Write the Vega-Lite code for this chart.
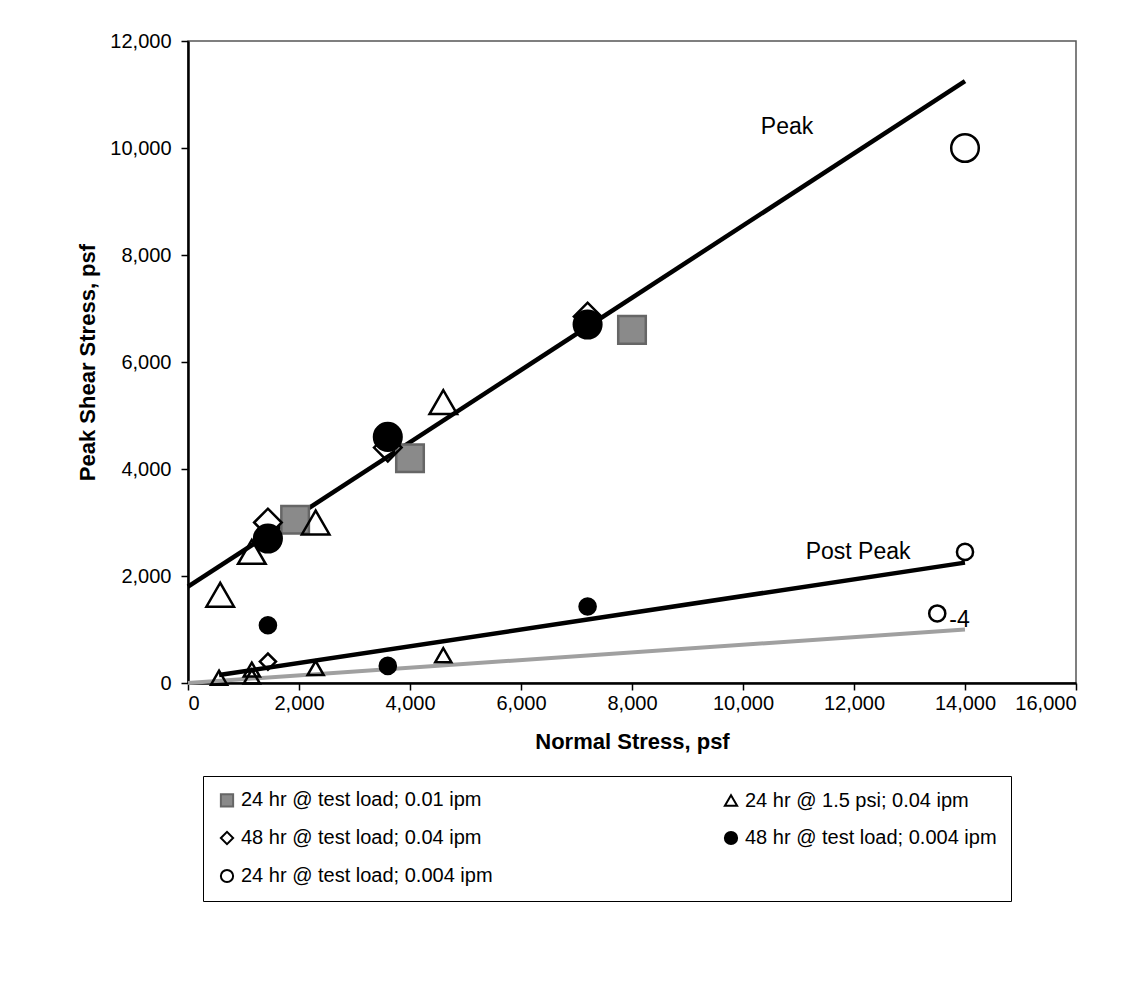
{
  "$schema": "https://vega.github.io/schema/vega-lite/v6.json",
  "width": 888,
  "height": 642,
  "autosize": {"type": "none"},
  "padding": {"left": 188, "top": 41, "right": 63, "bottom": 305},
  "background": "white",
  "config": {
    "font": "Liberation Sans",
    "view": {"stroke": "#555555", "strokeWidth": 1.5},
    "axis": {
      "grid": false,
      "domainColor": "black",
      "domainWidth": 2.5,
      "tickColor": "black",
      "tickWidth": 1.5,
      "tickSize": 7,
      "labelFont": "Liberation Sans",
      "labelFontSize": 20,
      "labelColor": "black",
      "titleFont": "Liberation Sans",
      "titleFontSize": 22,
      "titleFontWeight": "bold",
      "titleColor": "black"
    }
  },
  "datasets": {
    "points": [
      {"series": "24 hr @ test load; 0.01 ipm", "kind": "peak", "stress": 1930, "shear": 3050},
      {"series": "24 hr @ test load; 0.01 ipm", "kind": "peak", "stress": 4000, "shear": 4200},
      {"series": "24 hr @ test load; 0.01 ipm", "kind": "peak", "stress": 8000, "shear": 6600},
      {"series": "24 hr @ 1.5 psi; 0.04 ipm", "kind": "peak", "stress": 580, "shear": 1650},
      {"series": "24 hr @ 1.5 psi; 0.04 ipm", "kind": "peak", "stress": 1150, "shear": 2450},
      {"series": "24 hr @ 1.5 psi; 0.04 ipm", "kind": "peak", "stress": 2300, "shear": 3000},
      {"series": "24 hr @ 1.5 psi; 0.04 ipm", "kind": "peak", "stress": 4600, "shear": 5250},
      {"series": "24 hr @ 1.5 psi; 0.04 ipm", "kind": "post", "stress": 560, "shear": 100},
      {"series": "24 hr @ 1.5 psi; 0.04 ipm", "kind": "post", "stress": 1150, "shear": 250},
      {"series": "24 hr @ 1.5 psi; 0.04 ipm", "kind": "post", "stress": 1150, "shear": 120},
      {"series": "24 hr @ 1.5 psi; 0.04 ipm", "kind": "post", "stress": 2300, "shear": 280},
      {"series": "24 hr @ 1.5 psi; 0.04 ipm", "kind": "post", "stress": 4600, "shear": 520},
      {"series": "48 hr @ test load; 0.04 ipm", "kind": "peak", "stress": 1440, "shear": 3000},
      {"series": "48 hr @ test load; 0.04 ipm", "kind": "peak", "stress": 3600, "shear": 4400},
      {"series": "48 hr @ test load; 0.04 ipm", "kind": "peak", "stress": 7200, "shear": 6850},
      {"series": "48 hr @ test load; 0.04 ipm", "kind": "post", "stress": 1440, "shear": 400},
      {"series": "48 hr @ test load; 0.004 ipm", "kind": "peak", "stress": 1440, "shear": 2700},
      {"series": "48 hr @ test load; 0.004 ipm", "kind": "peak", "stress": 3600, "shear": 4600},
      {"series": "48 hr @ test load; 0.004 ipm", "kind": "peak", "stress": 7200, "shear": 6700},
      {"series": "48 hr @ test load; 0.004 ipm", "kind": "post", "stress": 1440, "shear": 1080},
      {"series": "48 hr @ test load; 0.004 ipm", "kind": "post", "stress": 3600, "shear": 320},
      {"series": "48 hr @ test load; 0.004 ipm", "kind": "post", "stress": 7200, "shear": 1430},
      {"series": "24 hr @ test load; 0.004 ipm", "kind": "peak", "stress": 14000, "shear": 10000},
      {"series": "24 hr @ test load; 0.004 ipm", "kind": "post", "stress": 14000, "shear": 2450},
      {"series": "24 hr @ test load; 0.004 ipm", "kind": "post", "stress": 13500, "shear": 1300}
    ],
    "lines": [
      {"line": "Peak", "stress": 0, "shear": 1800},
      {"line": "Peak", "stress": 14000, "shear": 11250},
      {"line": "Post Peak", "stress": 560, "shear": 150},
      {"line": "Post Peak", "stress": 14000, "shear": 2250},
      {"line": "Residual", "stress": 0, "shear": 0},
      {"line": "Residual", "stress": 14000, "shear": 1000}
    ],
    "labels": [
      {"text": "Peak", "stress": 10794, "shear": 10386},
      {"text": "Post Peak", "stress": 12073, "shear": 2447},
      {"text": "-4", "stress": 13900, "shear": 1180}
    ]
  },
  "layer": [
    {
      "data": {"name": "lines"},
      "transform": [{"filter": "datum.line == 'Residual'"}],
      "mark": {"type": "line", "color": "#a0a0a0", "strokeWidth": 4},
      "encoding": {
        "x": {"field": "stress", "type": "quantitative", "scale": {"domain": [0, 16000], "nice": false},
              "axis": {"values": [0, 2000, 4000, 6000, 8000, 10000, 12000, 14000, 16000], "format": ",d", "title": "Normal Stress, psf", "labelPadding": 3, "titlePadding": 18}},
        "y": {"field": "shear", "type": "quantitative", "scale": {"domain": [0, 12000], "nice": false},
              "axis": {"values": [0, 2000, 4000, 6000, 8000, 10000, 12000], "format": ",d", "title": "Peak Shear Stress, psf", "labelPadding": 10, "titlePadding": 10}},
        "detail": {"field": "line"}
      }
    },
    {
      "data": {"name": "lines"},
      "transform": [{"filter": "datum.line != 'Residual'"}],
      "mark": {"type": "line", "color": "black", "strokeWidth": 4.5},
      "encoding": {
        "x": {"field": "stress", "type": "quantitative"},
        "y": {"field": "shear", "type": "quantitative"},
        "detail": {"field": "line"}
      }
    },
    {
      "data": {"name": "points"},
      "mark": {"type": "point", "strokeWidth": 2.5, "opacity": 1},
      "encoding": {
        "x": {"field": "stress", "type": "quantitative"},
        "y": {"field": "shear", "type": "quantitative"},
        "shape": {"field": "series", "type": "nominal",
          "scale": {"domain": ["24 hr @ test load; 0.01 ipm", "24 hr @ 1.5 psi; 0.04 ipm", "48 hr @ test load; 0.04 ipm", "48 hr @ test load; 0.004 ipm", "24 hr @ test load; 0.004 ipm"],
                    "range": ["square", "triangle-up", "diamond", "circle", "circle"]},
          "legend": {"title": null, "orient": "none", "direction": "horizontal", "legendX": 15, "legendY": 735, "columns": 2, "columnPadding": 227, "rowPadding": 16,
                     "padding": 14, "strokeColor": "black", "fillColor": "white", "symbolSize": 150, "symbolStrokeWidth": 2,
                     "labelFont": "Liberation Sans", "labelFontSize": 20, "labelColor": "black", "labelOffset": 4, "labelLimit": 400}},
        "fill": {"field": "series", "type": "nominal",
          "scale": {"domain": ["24 hr @ test load; 0.01 ipm", "24 hr @ 1.5 psi; 0.04 ipm", "48 hr @ test load; 0.04 ipm", "48 hr @ test load; 0.004 ipm", "24 hr @ test load; 0.004 ipm"],
                    "range": ["#8a8a8a", "transparent", "transparent", "black", "transparent"]}},
        "stroke": {"field": "series", "type": "nominal",
          "scale": {"domain": ["24 hr @ test load; 0.01 ipm", "24 hr @ 1.5 psi; 0.04 ipm", "48 hr @ test load; 0.04 ipm", "48 hr @ test load; 0.004 ipm", "24 hr @ test load; 0.004 ipm"],
                    "range": ["#666666", "black", "black", "black", "black"]}},
        "size": {"field": "kind", "type": "nominal", "scale": {"domain": ["peak", "post"], "range": [760, 260]}, "legend": null}
      }
    },
    {
      "data": {"name": "labels"},
      "mark": {"type": "text", "font": "Liberation Sans", "fontSize": 23, "color": "black", "align": "center", "baseline": "middle"},
      "encoding": {
        "x": {"field": "stress", "type": "quantitative"},
        "y": {"field": "shear", "type": "quantitative"},
        "text": {"field": "text"}
      }
    }
  ]
}
